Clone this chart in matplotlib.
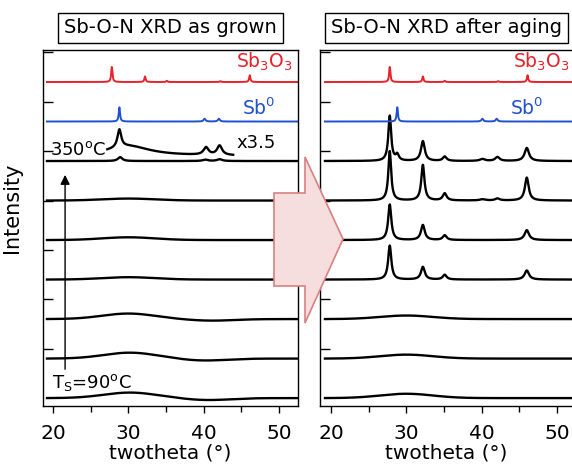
import numpy as np
import matplotlib
matplotlib.use('Agg')
import matplotlib.pyplot as plt
from matplotlib.patches import Polygon

# peaks: (two theta, height, fwhm), heights in trace spacings
sb2o3_peaks = [(27.8, 0.38, 0.2), (32.2, 0.14, 0.2), (35.1, 0.03, 0.2), (42.2, 0.02, 0.2), (46.1, 0.17, 0.2)]
sb_peaks = [(28.8, 0.36, 0.2), (40.1, 0.07, 0.3), (42.0, 0.07, 0.3)]

# as grown, bottom (90C) to top (350C)
grown_peaks = [[], [], [], [], [], [],
               [(28.9, 0.10, 0.7), (40.2, 0.035, 0.8), (42.1, 0.045, 0.8)]]
# amorphous humps: (two theta, height, sigma)
grown_humps = [[(30.2, 0.14, 3.5), (40.5, -0.05, 3.0)],
               [(30.2, 0.15, 3.5), (40.0, -0.05, 3.0)],
               [(30.0, 0.14, 3.5), (41.0, -0.04, 3.0)],
               [(30.0, 0.06, 3.5)],
               [(30.0, 0.07, 3.5)],
               [(30.0, 0.05, 3.5)],
               []]
# the x3.5 blow-up of the 350C pattern
scaled_range = (27.2, 43.9)
scaled_base = 0.13
scaled_peaks = [(28.8, 0.45, 0.6), (30.0, 0.25, 7.0), (40.3, 0.19, 0.8), (42.1, 0.24, 0.8)]

# after aging
aged_peaks = [[], [], [],
              [(27.8, 0.86, 0.5), (32.2, 0.32, 0.6), (35.1, 0.12, 0.6), (46.0, 0.23, 0.7)],
              [(27.8, 0.90, 0.5), (32.2, 0.38, 0.6), (35.1, 0.12, 0.6), (46.0, 0.25, 0.7)],
              [(27.8, 1.25, 0.45), (32.2, 0.90, 0.5), (35.1, 0.18, 0.6), (40.1, 0.03, 0.8),
               (42.1, 0.05, 0.7), (46.0, 0.58, 0.6)],
              [(27.8, 1.14, 0.45), (28.8, 0.15, 0.5), (32.2, 0.50, 0.6), (35.1, 0.11, 0.6),
               (40.1, 0.05, 0.8), (42.1, 0.10, 0.7), (46.0, 0.33, 0.7)]]
aged_humps = [[(30.0, 0.11, 3.5)], [(30.0, 0.10, 3.5)], [(30.0, 0.09, 3.5)], [], [], [], []]

titles = ['Sb-O-N XRD as grown', 'Sb-O-N XRD after aging']


def pattern(x, peaks, humps=()):
    y = np.zeros_like(x)
    for c, h, w in peaks:
        y += h / (1 + ((x - c) / (w / 2)) ** 2)
    for c, h, s in humps:
        y += h * np.exp(-0.5 * ((x - c) / s) ** 2)
    return y


fig = plt.figure(figsize=(5.72, 4.68), dpi=100)
ax1 = fig.add_axes([43 / 572, 1 - 406 / 468, 255 / 572, 356 / 468])
ax2 = fig.add_axes([320 / 572, 1 - 406 / 468, 252.5 / 572, 356 / 468])

x = np.linspace(19.2, 52.4, 3000)
red = '#e8212a'
blue = '#2050d0'

for ax, peaks, humps, title, xl in [(ax1, grown_peaks, grown_humps, titles[0], (18.67, 52.5)),
                                     (ax2, aged_peaks, aged_humps, titles[1], (18.54, 52.07))]:
    n = len(peaks)
    for i in range(n):
        ax.plot(x, i + pattern(x, peaks[i], humps[i]), color='k', lw=1.7)
    ax.plot(x, n + 0.0 + pattern(x, sb_peaks), color=blue, lw=1.4)
    ax.plot(x, n + 1.0 + pattern(x, sb2o3_peaks), color=red, lw=1.4)
    ax.set_xlim(*xl)
    ax.set_ylim(-0.2, 8.81)
    ax.set_xticks([20, 30, 40, 50])
    ax.set_xticks([25, 35, 45], minor=True)
    ax.set_yticks(np.arange(1.25, 9, 1.25))
    ax.tick_params(axis='x', direction='out', length=5, width=1, labelsize=14.5, pad=8)
    ax.tick_params(axis='x', which='minor', direction='out', length=4, width=1)
    ax.tick_params(axis='y', direction='in', length=7, width=1, labelleft=False)
    ax.set_xlabel('twotheta (°)', fontsize=14.5, labelpad=0)
    ax.text(0.5, 1.062, title, transform=ax.transAxes, ha='center', va='center', fontsize=14,
            bbox=dict(boxstyle='square,pad=0.3', fc='white', ec='k', lw=1))
    for s in ax.spines.values():
        s.set_linewidth(1)

ax1.text(51.9, 8.36, 'Sb$_3$O$_3$', color=red, ha='right', va='baseline', fontsize=13.5)
ax2.text(51.74, 8.36, 'Sb$_3$O$_3$', color=red, ha='right', va='baseline', fontsize=13.5)
ax1.text(49.5, 7.17, 'Sb$^0$', color=blue, ha='right', va='baseline', fontsize=13.5)
ax2.text(48.2, 7.17, 'Sb$^0$', color=blue, ha='right', va='baseline', fontsize=13.5)

xs = np.linspace(scaled_range[0], scaled_range[1], 800)
ax1.plot(xs, 6 + scaled_base + pattern(xs, scaled_peaks), color='k', lw=1.7)
ax1.text(44.4, 6.33, 'x3.5', ha='left', va='baseline', fontsize=13)
ax1.text(19.6, 6.15, '350$^{\\rm o}$C', ha='left', va='baseline', fontsize=13)
ax1.text(19.87, 0.25, 'T$_{\\rm S}$=90$^{\\rm o}$C', ha='left', va='baseline', fontsize=13)
ax1.annotate('', xy=(21.6, 5.72), xytext=(21.6, 0.66),
             arrowprops=dict(arrowstyle='-|>', color='k', lw=1, mutation_scale=14))

ax1.set_ylabel('Intensity', fontsize=15)
ax1.yaxis.set_label_coords(-0.082, 0.557)

# big block arrow between the panels
pts = [(274, 193), (305, 193), (305, 157), (343, 239), (305, 323), (305, 286), (274, 286)]
fig.patches.append(Polygon([(px / 572, 1 - py / 468) for px, py in pts], closed=True,
                           transform=fig.transFigure, fc='#f7dede', ec='#d98080', lw=1.2, zorder=10))

fig.savefig('out.png', dpi=100)
